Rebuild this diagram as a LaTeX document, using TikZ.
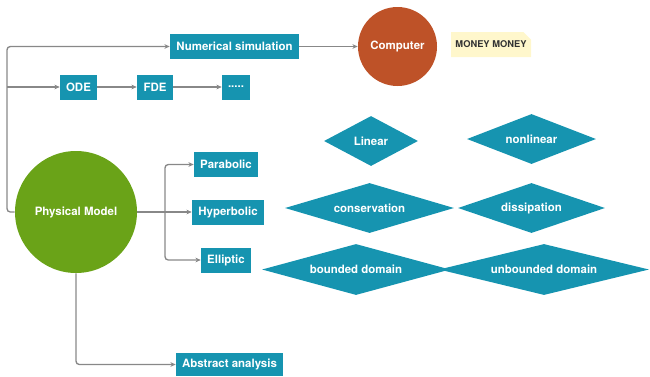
\documentclass[tikz,border=0pt]{standalone}
\usepackage{fontspec}
\setmainfont{TeX Gyre Heros}
\usetikzlibrary{shapes.geometric,shapes.misc,arrows.meta}
\definecolor{tealbox}{RGB}{22,148,176}
\definecolor{compred}{RGB}{190,82,40}
\definecolor{pmgreen}{RGB}{106,163,24}
\definecolor{conngray}{RGB}{136,136,136}
\definecolor{noteyellow}{RGB}{255,247,204}
\definecolor{notetext}{RGB}{50,50,50}
\tikzset{
  lbl/.style={font=\fontsize{8.6}{10}\selectfont\bfseries, text=white},
  box/.style={lbl, fill=tealbox, draw=none, inner sep=0pt, minimum height=25*0.75pt},
  dia/.style={lbl, shape=diamond, fill=tealbox, draw=none, inner sep=0pt, aspect=4, minimum height=50*0.75pt},
  bigcirc/.style={lbl, circle, draw=none, inner sep=0pt},
  conn/.style={draw=conngray, line width=1pt, rounded corners=2.5pt, -{Stealth[length=4pt,width=3.5pt]}},
  plain/.style={draw=conngray, line width=1pt, rounded corners=2.5pt},
  note/.style={chamfered rectangle, chamfered rectangle corners=north east, chamfered rectangle xsep=3pt, chamfered rectangle ysep=3pt, fill=noteyellow, draw=none, text=notetext, font=\fontsize{7}{8}\selectfont\bfseries, inner sep=0pt, minimum width=80*0.75pt, minimum height=25*0.75pt}
}
\begin{document}
\begin{tikzpicture}[x=0.75pt,y=-0.75pt]
\useasboundingbox (0,0) rectangle (650,376);
% nodes
\node[box, minimum width=129*0.75pt] (num) at (234.5,46.5) {Numerical simulation};
\node[bigcirc, fill=compred, minimum size=79*0.75pt] (comp) at (397.5,46.5) {Computer};
\node[note] (money) at (491,44.5) {MONEY MONEY};
\node[box, minimum width=37*0.75pt] (ode) at (78.5,87) {ODE};
\node[box, minimum width=36*0.75pt] (fde) at (155,87) {FDE};
\node[box, minimum width=28*0.75pt] (dots) at (236,87) {.....};
\node[bigcirc, fill=pmgreen, minimum size=122*0.75pt] (pm) at (76,212) {Physical Model};
\node[box, minimum width=64*0.75pt] (para) at (226,164.5) {Parabolic};
\node[box, minimum width=72*0.75pt] (hyper) at (228,212) {Hyperbolic};
\node[box, minimum width=50*0.75pt] (ell) at (226,260) {Elliptic};
\node[box, minimum width=107*0.75pt, minimum height=23*0.75pt] (abs) at (229.5,364.5) {Abstract analysis};
\node[dia, minimum width=94*0.75pt] (lin) at (371,141) {Linear};
\node[dia, minimum width=129*0.75pt] (nonlin) at (531.5,139) {nonlinear};
\node[dia, minimum width=169*0.75pt] (cons) at (369.5,208) {conservation};
\node[dia, minimum width=147*0.75pt] (diss) at (531.5,208) {dissipation};
\node[dia, minimum width=188*0.75pt, minimum height=51*0.75pt] (bdd) at (356,269.5) {bounded domain};
\node[dia, minimum width=210*0.75pt, minimum height=51*0.75pt] (ubdd) at (544,269.5) {unbounded domain};
% connectors
\coordinate (lx) at (7,87);
\coordinate (br) at (165,212);
\draw[conn] (pm.west) -| (7,46.5) -- (num.west);
\draw[conn] (lx) -- (ode.west);
\draw[conn] (ode.east) -- (fde.west);
\draw[conn] (fde.east) -- (dots.west);
\draw[conn] (num.east) -- (comp.west);
\draw[plain] (pm.east) -- (br);
\draw[conn] (br) |- (para.west);
\draw[conn] (br) -- (hyper.west);
\draw[conn] (br) |- (ell.west);
\draw[conn] (pm.south) |- (abs.west);
\end{tikzpicture}
\end{document}
